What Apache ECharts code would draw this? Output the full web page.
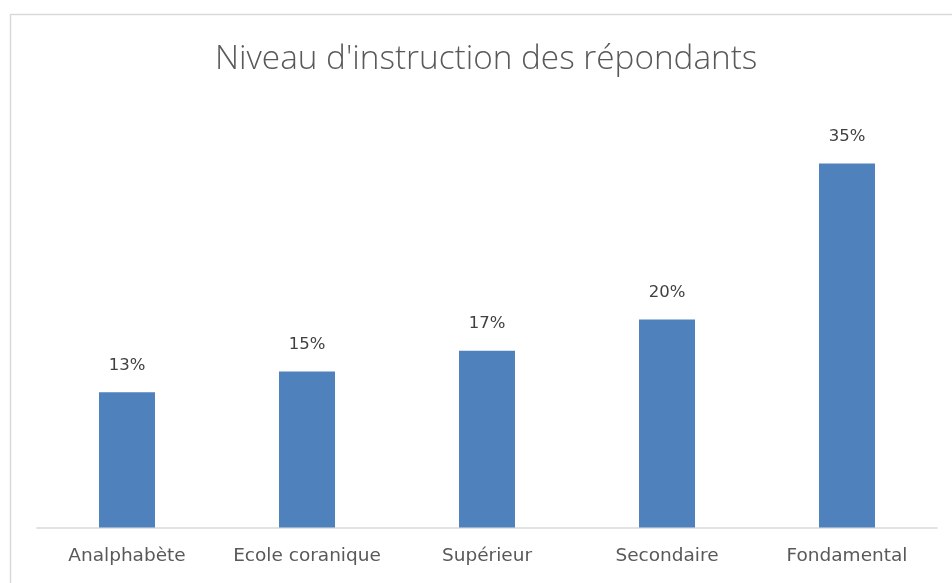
<!DOCTYPE html>
<html><head><meta charset="utf-8">
<script src="https://cdn.jsdelivr.net/npm/echarts@6/dist/echarts.min.js"></script>
<style>html,body{margin:0;padding:0;background:#fff}#c{width:952px;height:583px}</style>
</head><body><div id="c"></div>
<script>
const categories = ["Analphabète", "Ecole coranique", "Supérieur", "Secondaire", "Fondamental"];
const values = [0.13, 0.15, 0.17, 0.20, 0.35];
const titleText = "Niveau d'instruction des répondants";

const chart = echarts.init(document.getElementById('c'));
chart.setOption({
  animation: false,
  backgroundColor: '#fff',
  title: {
    text: titleText, left: 210, top: 38,
    textStyle: { fontFamily: 'Open Sans', fontWeight: 300, fontSize: 33.3, color: '#595959' }
  },
  graphic: [{
    type: 'rect', left: 8, top: 12, shape: { x: 0, y: 0, width: 960, height: 600 },
    style: { fill: 'none', stroke: '#d9d9d9', lineWidth: 1.5 }, silent: true, z: -1
  }],
  grid: { left: 37, right: 15, top: 111.5, height: 416, containLabel: false },
  xAxis: {
    type: 'category', data: categories,
    axisLine: { lineStyle: { color: '#d9d9d9', width: 1.5 } },
    axisTick: { show: false },
    axisLabel: { interval: 0, hideOverlap: false, fontFamily: 'DejaVu Sans', fontSize: 18.5, color: '#595959', margin: 19 }
  },
  yAxis: { type: 'value', min: 0, max: 0.40, show: false, splitLine: { show: false } },
  series: [{
    type: 'bar', data: values, barWidth: 56,
    itemStyle: { color: '#4f81bd' },
    label: {
      show: true, position: 'top', distance: 18,
      fontFamily: 'DejaVu Sans', fontSize: 16.5, color: '#404040',
      formatter: p => Math.round(p.value * 100) + '%'
    }
  }]
});
</script></body></html>
